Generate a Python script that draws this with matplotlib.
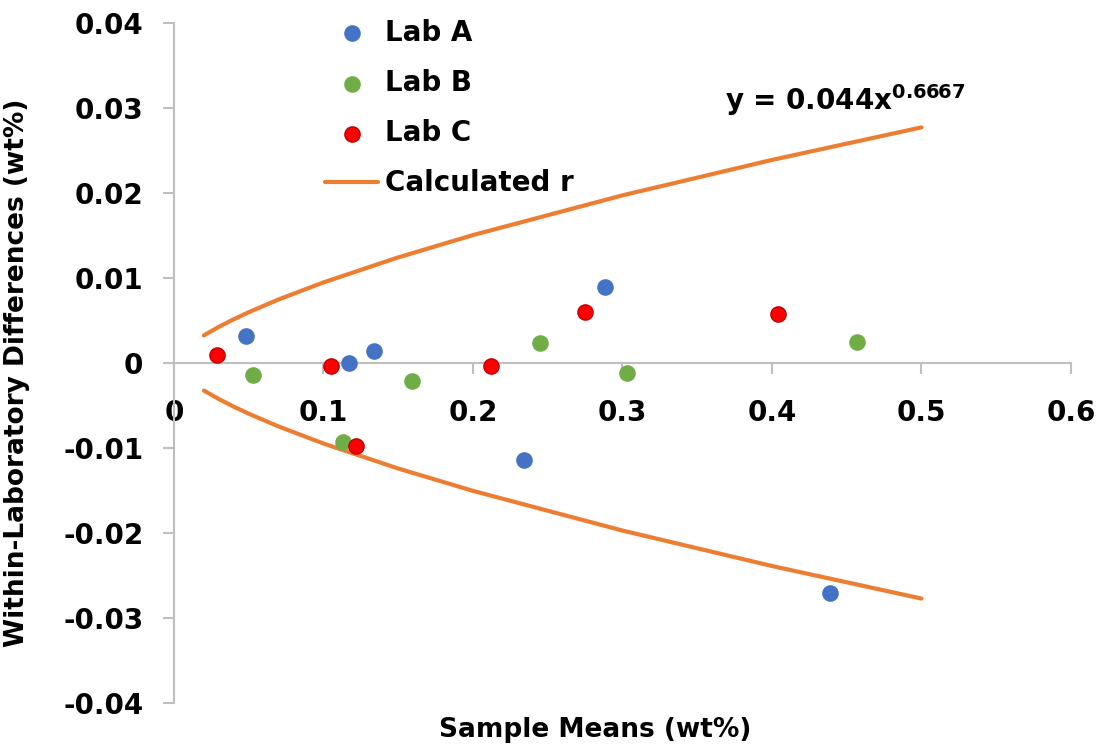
import numpy as np
import matplotlib.pyplot as plt

plt.rcParams['font.family'] = ['DejaVu Sans']
plt.rcParams['mathtext.default'] = 'regular'

# within-lab differences vs sample means, per lab
lab_a_x = [0.048, 0.117, 0.134, 0.234, 0.288, 0.439]
lab_a_y = [0.0032, 0.0000, 0.0014, -0.0114, 0.0089, -0.0271]
lab_b_x = [0.053, 0.113, 0.159, 0.245, 0.303, 0.457]
lab_b_y = [-0.0014, -0.0093, -0.0021, 0.0024, -0.0012, 0.0025]
lab_c_x = [0.029, 0.105, 0.122, 0.212, 0.275, 0.404]
lab_c_y = [0.0009, -0.0004, -0.0098, -0.0004, 0.0060, 0.0058]

# repeatability limit r = a * x^b
r_coef = 0.044
r_exp = 0.6667
r_x = np.array([0.02, 0.03, 0.04, 0.05, 0.07, 0.1, 0.15, 0.2, 0.3, 0.4, 0.5])
r_y = r_coef * r_x ** r_exp

xticks = [0, 0.1, 0.2, 0.3, 0.4, 0.5, 0.6]
yticks = [-0.04, -0.03, -0.02, -0.01, 0, 0.01, 0.02, 0.03, 0.04]

fig = plt.figure(figsize=(11.04, 7.48), dpi=100)
ax = fig.add_axes([0.1576, 0.0602, 0.8125, 0.9091])

ms = 120
ax.scatter(lab_a_x, lab_a_y, s=ms, color='#4472C4', label='Lab A', zorder=3)
ax.scatter(lab_b_x, lab_b_y, s=ms, color='#70AD47', label='Lab B', zorder=3)
ax.scatter(lab_c_x, lab_c_y, s=ms, color='#FF0000', edgecolor='#C00000',
           linewidth=1, label='Lab C', zorder=3)
ax.plot(r_x, r_y, color='#ED7D31', lw=3, label='Calculated r', zorder=2,
        solid_capstyle='round')
ax.plot(r_x, -r_y, color='#ED7D31', lw=3, zorder=2, solid_capstyle='round')

ax.set_xlim(0, 0.6)
ax.set_ylim(-0.04, 0.04)
ax.set_xticks(xticks)
ax.set_yticks(yticks)
ax.set_xticklabels(['0', '0.1', '0.2', '0.3', '0.4', '0.5', '0.6'])
ax.set_yticklabels(['-0.04', '-0.03', '-0.02', '-0.01', '0',
                    '0.01', '0.02', '0.03', '0.04'])

for s in ['top', 'right']:
    ax.spines[s].set_visible(False)
ax.spines['bottom'].set_position(('data', 0))
ax.spines['left'].set_position(('data', 0))
for s in ['bottom', 'left']:
    ax.spines[s].set_color('#BFBFBF')
    ax.spines[s].set_linewidth(1.5)

ax.tick_params(axis='x', direction='out', length=8, width=1.5, color='#BFBFBF',
               pad=18, labelsize=20)
ax.tick_params(axis='y', direction='out', length=8, width=1.5, color='#BFBFBF',
               pad=14, labelsize=20)
for lbl in ax.get_xticklabels() + ax.get_yticklabels():
    lbl.set_fontweight('bold')

ax.set_xlabel('Sample Means (wt%)', fontsize=19, fontweight='bold')
ax.xaxis.set_label_coords(0.47, -0.02)
ax.set_ylabel('Within-Laboratory Differences (wt%)', fontsize=19, fontweight='bold')
ax.yaxis.set_label_coords(-0.16, 0.485)

ax.text(0.529, 0.0309, r'y = 0.044x$^{0.6667}$', fontsize=20, fontweight='bold',
        ha='right', va='center')

ax.legend(loc='upper left', bbox_to_anchor=(0.147, 1.035), frameon=False,
          prop={'size': 20, 'weight': 'bold'}, handlelength=1.9,
          handletextpad=0.25, labelspacing=0.8, borderpad=0.2)

fig.savefig('out.png', dpi=100)
